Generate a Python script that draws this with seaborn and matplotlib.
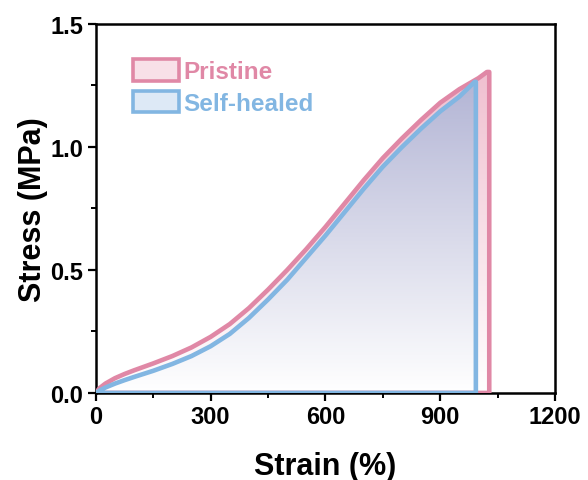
import numpy as np
import pandas as pd
import matplotlib
matplotlib.use("Agg")
import matplotlib.pyplot as plt
import seaborn as sns
from matplotlib.colors import LinearSegmentedColormap
from matplotlib.patches import Polygon, Patch
from matplotlib.ticker import MultipleLocator

# ---- data ----
pristine_strain = [0, 10, 25, 50, 75, 100, 150, 200, 250, 300, 350, 400, 450,
                   500, 550, 600, 650, 700, 750, 800, 850, 900, 950, 1000, 1022]
pristine_stress = [0, 0.02, 0.038, 0.06, 0.077, 0.092, 0.12, 0.15, 0.185,
                   0.228, 0.28, 0.345, 0.42, 0.50, 0.585, 0.675, 0.77, 0.865,
                   0.955, 1.035, 1.11, 1.18, 1.235, 1.28, 1.305]
pristine_break = 1028

healed_strain = [0, 10, 25, 50, 75, 100, 150, 200, 250, 300, 350, 400, 450,
                 500, 550, 600, 650, 700, 750, 800, 850, 900, 950, 990]
healed_stress = [0, 0.01, 0.022, 0.038, 0.052, 0.065, 0.09, 0.118, 0.15, 0.19,
                 0.24, 0.305, 0.38, 0.46, 0.55, 0.64, 0.735, 0.83, 0.92, 1.0,
                 1.075, 1.145, 1.205, 1.265]
healed_break = 993

labels = ["Pristine", "Self-healed"]
x_ticks = [0, 300, 600, 900, 1200]
y_ticks = [0.0, 0.5, 1.0, 1.5]

pink = "#e088a6"
blue = "#82b6e2"

sns.set_theme(style="ticks")
plt.rcParams["font.family"] = ["Liberation Sans", "DejaVu Sans"]
plt.rcParams["font.weight"] = "bold"
plt.rcParams["text.color"] = "black"
plt.rcParams["axes.labelcolor"] = "black"
plt.rcParams["xtick.color"] = "black"
plt.rcParams["ytick.color"] = "black"

fig = plt.figure(figsize=(5.88, 4.81), dpi=100)
ax = fig.add_axes([0.163, 0.181, 0.781, 0.767])
ax.set_xlim(0, 1200)
ax.set_ylim(0, 1.5)


def closed(strain, stress, brk):
    xs = list(strain) + [brk, brk, 0]
    ys = list(stress) + [stress[-1], 0, 0]
    return xs, ys


def gradient_fill(xs, ys, top_color, bottom_color, zorder):
    poly = Polygon(np.column_stack([xs, ys]), closed=True, facecolor="none",
                   edgecolor="none", transform=ax.transData)
    ax.add_patch(poly)
    cmap = LinearSegmentedColormap.from_list("g", [bottom_color, top_color])
    ymax = max(ys)
    grad = np.linspace(0, 1, 256).reshape(-1, 1)
    im = ax.imshow(grad, cmap=cmap, origin="lower", aspect="auto",
                   extent=[0, max(xs), 0, ymax], zorder=zorder)
    im.set_clip_path(poly)


px, py = closed(pristine_strain, pristine_stress, pristine_break)
hx, hy = closed(healed_strain, healed_stress, healed_break)

gradient_fill(px, py, "#f0c0d0", "#ffffff", 1)
gradient_fill(hx, hy, "#b3b5d5", "#ffffff", 2)

dp = pd.DataFrame({"x": px, "y": py})
dh = pd.DataFrame({"x": hx, "y": hy})
sns.lineplot(data=dp, x="x", y="y", sort=False, estimator=None, color=pink,
             lw=3.3, ax=ax, zorder=3, solid_joinstyle="round",
             solid_capstyle="round")
sns.lineplot(data=dh, x="x", y="y", sort=False, estimator=None, color=blue,
             lw=3.3, ax=ax, zorder=4, solid_joinstyle="round",
             solid_capstyle="round")
ax.set_xlim(0, 1200)
ax.set_ylim(0, 1.5)

ax.set_xticks(x_ticks)
ax.set_yticks(y_ticks)
ax.set_yticklabels([f"{v:.1f}" for v in y_ticks])
ax.xaxis.set_minor_locator(MultipleLocator(150))
ax.yaxis.set_minor_locator(MultipleLocator(0.25))
ax.tick_params(axis="both", which="major", direction="out", length=6,
               width=1.6, labelsize=17, pad=3, colors="black")
ax.tick_params(axis="both", which="minor", direction="out", length=3.5,
               width=1.4, colors="black")
ax.tick_params(top=False, right=False, which="both")
for lab in ax.get_xticklabels() + ax.get_yticklabels():
    lab.set_fontweight("bold")
for s in ax.spines.values():
    s.set_linewidth(1.8)
    s.set_color("black")
    s.set_visible(True)

ax.set_xlabel("Strain (%)", fontsize=22, fontweight="bold", labelpad=16,
              color="black")
ax.set_ylabel("Stress (MPa)", fontsize=22, fontweight="bold", labelpad=2,
              color="black")

handles = [Patch(facecolor="#f8e0e8", edgecolor=pink, linewidth=2.6,
                 joinstyle="round"),
           Patch(facecolor="#dde9f6", edgecolor=blue, linewidth=2.6,
                 joinstyle="round")]
leg = ax.legend(handles, labels, loc="upper left",
                bbox_to_anchor=(0.08, 0.905), frameon=False,
                prop={"family": "Liberation Sans", "weight": "bold",
                      "size": 17.5},
                handlelength=1.9, handleheight=1.0, handletextpad=0.2,
                labelspacing=0.3, borderpad=0, borderaxespad=0)
for t, c in zip(leg.get_texts(), [pink, blue]):
    t.set_color(c)

fig.savefig("out.png", dpi=100)
